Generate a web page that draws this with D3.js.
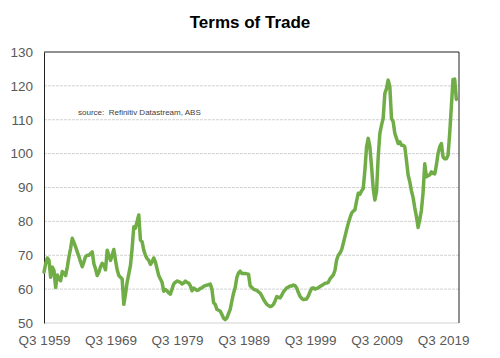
<!DOCTYPE html>
<html>
<head>
<meta charset="utf-8">
<script src="https://cdn.jsdelivr.net/npm/d3@7"></script>
<style>
  html, body { margin: 0; padding: 0; background: #fff; }
  svg { display: block; }
</style>
</head>
<body>
<svg id="chart" width="500" height="358"></svg>
<script>
// ---- data ----
const title = "Terms of Trade";
const sourceNote = "source:  Refinitiv Datastream, ABS";
const startYear = 1959;
const startQuarter = 3;
// quarterly index values, Q3 1959 .. Q3 2021
const values = [
  65.0, 67.5,
  69.2, 68.5, 63.5, 66.5,
  65.5, 60.5, 64.2, 63.0,
  62.5, 65.2, 64.8, 64.0,
  66.5, 69.5, 72.0, 75.0,
  73.8, 72.5, 71.0, 69.6,
  68.0, 66.6, 68.0, 69.6,
  70.0, 70.0, 70.5, 71.0,
  67.5, 66.0, 64.0, 65.0,
  66.6, 67.6, 67.0, 65.7,
  71.5, 70.0, 68.5, 70.0,
  71.7, 68.5, 65.7, 64.0,
  63.5, 63.0, 55.5, 58.5,
  62.0, 64.5, 67.0, 72.0,
  78.4, 78.0, 80.0, 81.9,
  74.5, 74.0, 71.5, 70.0,
  69.0, 68.5, 67.3, 68.0,
  69.2, 68.0, 66.0, 64.0,
  63.0, 62.0, 59.4, 59.9,
  59.5, 58.9, 58.5, 60.0,
  61.5, 62.0, 62.4, 62.2,
  62.0, 61.5, 61.8, 62.4,
  62.0, 61.8, 61.0, 59.5,
  60.3, 60.0, 59.6, 59.8,
  60.2, 60.4, 60.8, 61.0,
  61.2, 61.3, 61.5, 60.0,
  56.0, 55.5, 54.0, 53.8,
  53.5, 52.5, 51.4, 51.0,
  51.5, 52.8, 54.0, 56.5,
  58.8, 60.5, 63.5, 64.8,
  65.3, 64.6, 64.6, 64.6,
  64.5, 64.4, 61.0, 60.5,
  60.0, 59.8, 59.6, 59.2,
  58.8, 58.0, 57.0, 56.2,
  55.5, 55.2, 54.8, 55.0,
  55.5, 56.5, 57.8, 57.6,
  57.4, 58.2, 59.2, 59.8,
  60.4, 60.6, 60.9, 60.9,
  61.2, 61.0, 60.3, 59.0,
  57.9, 57.2, 56.9, 57.0,
  57.1, 58.0, 59.2, 60.2,
  60.4, 60.0, 60.2, 60.4,
  60.8, 61.1, 61.4, 61.7,
  61.8, 62.0, 63.0, 63.6,
  64.2, 65.5, 68.6, 70.0,
  70.6, 71.6, 73.5, 75.5,
  77.5, 79.4, 81.0, 82.4,
  83.0, 83.4, 86.0, 88.3,
  88.0, 89.0, 89.7, 95.1,
  102.0, 104.5, 102.0, 96.2,
  89.7, 86.3, 88.8, 99.0,
  106.0, 108.4, 110.4, 117.8,
  119.2, 121.7, 119.8, 110.4,
  109.4, 106.0, 104.5, 103.0,
  103.5, 102.5, 102.5, 102.0,
  98.0, 93.7, 91.7, 89.0,
  87.0, 84.0, 81.4, 78.2,
  80.5, 83.3, 88.5, 97.0,
  93.2, 93.5, 93.7, 94.6,
  94.2, 94.0, 96.6, 100.0,
  102.0, 103.0, 99.0, 98.5,
  98.5, 99.5, 106.0, 113.8,
  121.9, 122.0, 116.0
];
const xTickLabels = ["Q3 1959", "Q3 1969", "Q3 1979", "Q3 1989", "Q3 1999", "Q3 2009", "Q3 2019"];
const yTicks = [50, 60, 70, 80, 90, 100, 110, 120, 130];

// category labels built from the start quarter
const categories = values.map((v, i) => {
  const q = (startQuarter - 1 + i) % 4 + 1;
  const yr = startYear + Math.floor((startQuarter - 1 + i) / 4);
  return "Q" + q + " " + yr;
});
const data = values.map((v, i) => ({ cat: categories[i], idx: i, value: v }));

// ---- layout ----
const svg = d3.select("#chart");
const plotL = 44, plotR = 459, plotT = 52, plotB = 323;
const font = "'Liberation Sans', Arial, sans-serif";

const x = d3.scaleLinear().domain([0, 249]).range([plotL, 458]);
const y = d3.scaleLinear().domain([50, 130]).range([plotB, plotT]);

// title
svg.append("text")
  .attr("x", 250).attr("y", 28)
  .attr("text-anchor", "middle")
  .style("font-family", font)
  .style("font-weight", "bold")
  .style("font-size", "17px")
  .attr("fill", "#000")
  .text(title);

// gridlines
svg.append("g").selectAll("line")
  .data(yTicks.filter(t => t > 50 && t < 130))
  .join("line")
  .attr("x1", plotL).attr("x2", plotR)
  .attr("y1", d => y(d)).attr("y2", d => y(d))
  .attr("stroke", "#d2d2d2")
  .attr("stroke-width", 1)
  .attr("stroke-dasharray", "3,1");

// bottom line at 50
svg.append("line")
  .attr("x1", plotL).attr("x2", plotR)
  .attr("y1", y(50)).attr("y2", y(50))
  .attr("stroke", "#d2d2d2").attr("stroke-width", 1);

// frame: top, right
svg.append("line").attr("x1", plotL).attr("x2", plotR).attr("y1", y(130)).attr("y2", y(130))
  .attr("stroke", "#222").attr("stroke-width", 1);
svg.append("line").attr("x1", plotR).attr("x2", plotR).attr("y1", y(130)).attr("y2", y(50))
  .attr("stroke", "#222").attr("stroke-width", 1);

// y axis
const yAxis = d3.axisLeft(y).tickValues(yTicks).tickSize(0).tickPadding(11);
const gy = svg.append("g").attr("transform", `translate(${plotL},0)`).call(yAxis);
gy.select(".domain").attr("stroke", "#222").attr("stroke-width", 1);
gy.selectAll("text")
  .style("font-family", font).style("font-size", "13.5px").attr("fill", "#595959");

// x axis (labels every 40 quarters)
const tickIdx = xTickLabels.map(l => categories.indexOf(l));
const xAxis = d3.axisBottom(x).tickValues(tickIdx)
  .tickFormat(d => categories[d]).tickSize(0).tickPadding(12);
const gx = svg.append("g").attr("transform", `translate(0,${plotB})`).call(xAxis);
gx.select(".domain").remove();
gx.selectAll("text")
  .style("font-family", font).style("font-size", "13.5px").attr("fill", "#595959");

// source note
svg.append("text")
  .attr("x", 78).attr("y", 114.5)
  .style("font-family", font)
  .style("font-size", "8px")
  .attr("fill", "#404040")
  .style("white-space", "pre")
  .text(sourceNote);

// line
const line = d3.line().x(d => x(d.idx)).y(d => y(d.value));
svg.append("path")
  .datum(data)
  .attr("d", line)
  .attr("fill", "none")
  .attr("stroke", "#70ad47")
  .attr("stroke-width", 3.5)
  .attr("stroke-linejoin", "round")
  .attr("stroke-linecap", "round");
</script>
</body>
</html>
